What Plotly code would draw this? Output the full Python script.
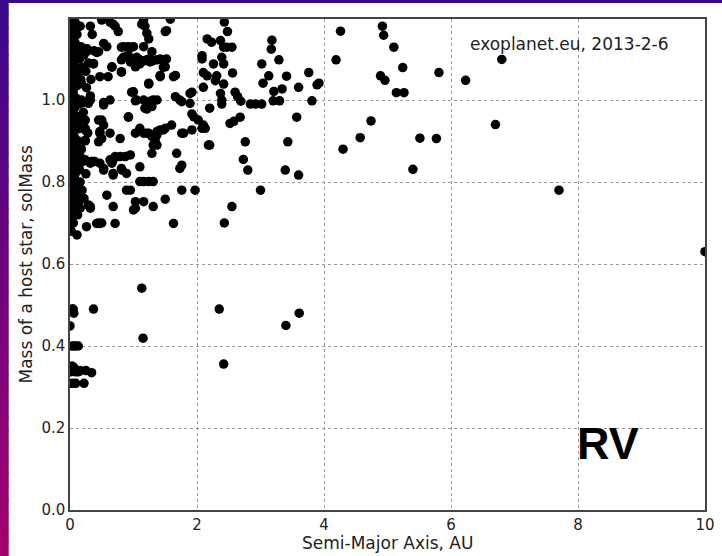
import plotly.graph_objects as go

# ---- data: semi-major axis (AU) and host star mass (solar masses) ----
inner_a = [0.02, 0.05, 0.02, 0.08, 0.03, 0.12, 0.05, 0.15, 0.01, 0.09, 0.2, 0.04, 0.13, 0.25, 0.02, 0.07, 0.17, 0.03, 0.11, 0.05,
           0.01, 0.09, 0.03, 0.14, 0.02, 0.06, 0.01, 0.04, 0.1, 0.02, 0.07, 0.01, 0.13, 0.04, 0.02, 0.08, 0.01, 0.05, 0.12, 0.03,
           0.02, 0.07, 0.01, 0.05, 0.1, 0.02, 0.04, 0.13, 0.01, 0.06, 0.02, 0.09, 0.03, 0.01, 0.05, 0.02, 0.16, 0.19, 0.22, 0.08,
           0.15, 0.2, 0.25, 0.18, 0.24, 0.28, 0.16, 0.21, 0.3, 0.26, 0.33, 0.29, 0.38, 0.35, 0.11, 0.07, 0.17, 0.22, 0.27,
           0.08, 0.16, 0.32, 0.11, 0.21, 0.26, 0.24, 0.21, 0.37, 0.37, 0.18, 0.32, 0.29, 0.32, 0.21, 0.05, 0.08, 0.21, 0.24, 0.24,
           0.24, 0.24, 0.16, 0.24, 0.32, 0.37, 0.34, 0.39, 0.11, 0.16, 0.29, 0.16, 0.32, 0.32, 0.26, 0.11, 0.03, 0.05,
           0.00, 0.00, 0.00, 0.00, 0.00, 0.00, 0.00, 0.06, 0.1, 0.07, 0.11, 0.09, 0.06, 0.1, 0.04, 0.08, 0.04, 0.12, 0.03, 0.14,
           0.18, 0.12, 0.15, 0.1, 0.06, 0.03]
inner_m = [1.19, 1.17, 1.15, 1.14, 1.12, 1.12, 1.10, 1.10, 1.09, 1.08, 1.08, 1.07, 1.065, 1.07, 1.055, 1.05, 1.05, 1.04, 1.035, 1.02,
           1.01, 1.005, 0.99, 0.99, 0.975, 0.96, 0.95, 0.935, 0.93, 0.92, 0.91, 0.90, 0.90, 0.89, 0.875, 0.87, 0.86, 0.85, 0.845, 0.835,
           0.82, 0.815, 0.80, 0.79, 0.79, 0.78, 0.77, 0.775, 0.76, 0.755, 0.74, 0.735, 0.72, 0.70, 0.70, 0.68, 0.80, 0.78, 0.76, 0.82,
           0.83, 0.85, 0.82, 0.88, 0.90, 0.92, 0.95, 0.97, 1.0, 1.03, 1.05, 1.09, 1.12, 1.16, 1.16, 1.185, 1.13, 1.11, 1.125,
           1.19, 1.18, 1.18, 1.177, 1.122, 1.118, 1.124, 1.112, 1.089, 1.088, 1.0, 1.0, 0.992, 1.01, 0.994, 0.998, 0.951, 0.951, 0.931, 0.902,
           0.951, 0.927, 0.862, 0.854, 0.846, 0.850, 0.85, 0.85, 0.768, 0.756, 0.744, 0.736, 0.736, 0.74, 0.691, 0.671, 0.699, 0.70,
           1.13, 1.06, 0.97, 0.88, 0.83, 0.78, 0.73, 1.09, 1.06, 0.98, 0.96, 0.89, 0.86, 0.85, 0.80, 0.76, 0.745, 0.72, 0.96, 0.93,
           1.04, 1.0, 1.07, 1.11, 1.13, 1.165]

low_a = [0.0, 0.05, 0.06, 0.03, 0.37, 0.03, 0.06, 0.09, 0.13, 0.03, 0.06, 0.16, 0.25, 0.34, 0.01, 0.09, 0.13, 0.03, 0.09, 0.22,
         1.13, 1.15, 2.35, 2.42, 3.40, 3.61]
low_m = [0.449, 0.49, 0.48, 0.49, 0.49, 0.40, 0.40, 0.40, 0.40, 0.351, 0.348, 0.34, 0.34, 0.335, 0.337, 0.337, 0.337, 0.309, 0.309, 0.309,
         0.541, 0.419, 0.49, 0.356, 0.45, 0.48]

mid_a = [0.50, 0.63, 0.71, 0.76, 0.68, 1.16, 1.18, 1.21, 1.13, 1.24, 1.50, 1.58, 1.52,
         0.45, 0.53, 0.58, 0.42, 0.84, 0.92, 1.00, 0.81, 0.89, 0.97, 1.16, 1.29,
         0.47, 0.60, 0.66, 0.81, 0.81, 0.89, 0.95, 1.03, 1.05, 1.10, 1.21, 1.26, 1.37, 1.47, 1.50, 1.42, 1.63, 1.24, 0.84, 0.92,
         0.97, 1.05, 1.10, 1.18, 1.24, 1.31, 1.42, 1.52, 1.47, 0.81, 0.66, 1.42, 1.66, 1.24,
         0.53, 0.63, 1.00, 1.05, 1.16, 1.21, 1.29, 1.31, 1.37, 1.18, 1.66, 1.73, 1.76, 1.89, 1.89, 0.97, 1.03, 1.26, 1.21, 1.92,
         1.92, 0.53, 0.92,
         0.45, 0.47, 0.50, 0.63, 0.79, 0.92, 1.03, 1.10, 1.16, 1.24, 1.29, 1.34, 1.37, 1.42, 1.50, 1.60, 1.76, 1.31, 1.92, 1.95,
         0.50, 0.53, 0.47, 0.45, 1.21, 1.37, 1.47, 1.37, 1.79,
         0.47, 0.53, 0.63, 0.71, 0.79, 0.87, 0.95, 0.68, 0.81, 0.89, 1.10, 1.29, 1.68, 1.76, 1.73, 1.10, 1.16, 1.24, 1.31, 0.89,
         0.95, 1.76, 1.97, 0.68, 0.66, 0.82, 0.68, 0.53,
         0.58, 0.68, 1.03, 1.00, 1.16, 1.31, 1.50, 1.03, 0.42, 0.47, 0.71, 0.45, 0.50, 1.63]
mid_m = [1.195, 1.19, 1.18, 1.167, 1.185, 1.195, 1.18, 1.163, 1.185, 1.149, 1.167, 1.197, 1.169,
         1.118, 1.138, 1.130, 1.116, 1.130, 1.130, 1.130, 1.129, 1.129, 1.129, 1.130, 1.118,
         1.057, 1.057, 1.081, 1.069, 1.098, 1.106, 1.093, 1.081, 1.093, 1.098, 1.098, 1.093, 1.098, 1.098, 1.081, 1.057, 1.057, 1.041, 1.104, 1.108,
         1.096, 1.104, 1.088, 1.096, 1.100, 1.096, 1.100, 1.100, 1.080, 1.068, 1.080, 1.060, 1.060, 1.039,
         0.988, 1.0, 1.020, 1.0, 1.0, 0.992, 0.984, 1.0, 1.0, 0.98, 1.008, 1.0, 0.996, 1.016, 0.992, 1.019, 0.998, 0.997, 0.978, 1.019,
         0.966, 0.994, 0.958,
         0.951, 0.923, 0.906, 0.919, 0.906, 0.959, 0.919, 0.931, 0.919, 0.919, 0.911, 0.902, 0.923, 0.927, 0.931, 0.939, 0.919, 0.890, 0.927, 0.959,
         0.951, 0.939, 0.919, 0.898, 0.919, 0.915, 0.927, 0.890, 0.919,
         0.846, 0.833, 0.854, 0.862, 0.862, 0.862, 0.866, 0.821, 0.833, 0.821, 0.837, 0.870, 0.870, 0.841, 0.833, 0.801, 0.801, 0.801, 0.801, 0.780,
         0.780, 0.780, 0.780, 0.854, 0.846, 0.829, 0.817, 0.829,
         0.768, 0.740, 0.752, 0.732, 0.752, 0.740, 0.758, 0.736, 0.699, 0.699, 0.699, 0.70, 0.70, 0.699]

outer_a = [2.43, 2.48, 2.16, 2.23, 2.37, 2.42, 2.47, 2.55, 2.08, 2.08, 2.39, 2.42, 2.26, 2.10, 2.16, 2.31, 2.29, 2.42, 2.10, 2.37,
           2.39, 2.56, 2.60, 2.64, 2.69, 2.39, 2.20, 2.84, 2.92, 3.02, 3.20, 3.30, 3.81, 3.02, 3.18, 3.17, 3.29, 3.13, 3.04, 3.41,
           3.21, 3.34, 3.60, 3.76, 3.92, 3.89, 4.26, 4.19,
           2.02, 2.10, 2.13, 2.08, 2.18, 2.20, 2.52, 2.58, 2.68, 2.76, 3.43, 3.57, 4.30, 2.73, 2.80, 3.39, 3.60, 3.0, 2.55, 2.43,
           4.92, 4.94, 5.10, 5.24, 4.89, 4.96, 5.14, 5.26, 5.81, 6.23, 6.80, 6.70, 4.74, 4.57, 5.51, 5.77, 5.40, 7.70, 10.0]
outer_m = [1.19, 1.167, 1.149, 1.141, 1.145, 1.129, 1.129, 1.129, 1.108, 1.10, 1.104, 1.088, 1.088, 1.067, 1.059, 1.059, 1.047, 1.039, 1.031, 1.016,
           0.99, 1.066, 1.019, 1.008, 0.997, 1.0, 0.98, 0.99, 0.99, 0.99, 0.998, 0.998, 0.998, 1.088, 1.146, 1.124, 1.098, 1.059, 1.041, 1.058,
           1.021, 1.027, 1.031, 1.067, 1.041, 1.037, 1.168, 1.098,
           0.951, 0.939, 0.931, 0.931, 0.890, 0.890, 0.943, 0.948, 0.958, 0.898, 0.898, 0.958, 0.880, 0.855, 0.829, 0.829, 0.817, 0.78, 0.74, 0.70,
           1.18, 1.158, 1.129, 1.079, 1.059, 1.048, 1.018, 1.018, 1.067, 1.048, 1.099, 0.940, 0.949, 0.908, 0.907, 0.906, 0.831, 0.780, 0.630]

x_ticks = [0, 2, 4, 6, 8, 10]
y_ticks = [0.0, 0.2, 0.4, 0.6, 0.8, 1.0]
y_tick_text = ["0.0", "0.2", "0.4", "0.6", "0.8", "1.0"]

a_all = inner_a + low_a + mid_a + outer_a
m_all = inner_m + low_m + mid_m + outer_m

fig = go.Figure()
fig.add_trace(go.Scatter(x=a_all, y=m_all, mode="markers",
                         marker=dict(color="black", size=9.5, line=dict(width=0)),
                         cliponaxis=True, showlegend=False, hoverinfo="skip"))

# ---- purple frame (left gradient strip + top strip), in pixel units relative to the plot origin ----
shapes = []
L, B, H = 70, 46, 556
n_seg = 40
top_c = (58, 8, 142)
bot_c = (165, 0, 110)
for i in range(n_seg):
    t = i / (n_seg - 1)
    r = int(top_c[0] + (bot_c[0] - top_c[0]) * t)
    g = int(top_c[1] + (bot_c[1] - top_c[1]) * t)
    b = int(top_c[2] + (bot_c[2] - top_c[2]) * t)
    y_top = 510 - i * H / n_seg
    y_bot = 510 - (i + 1) * H / n_seg
    shapes.append(dict(type="rect", xref="paper", yref="paper", xsizemode="pixel", ysizemode="pixel",
                       xanchor=0, yanchor=0, x0=-L, x1=-L + 8.7, y0=y_bot - 0.5, y1=y_top + 0.5,
                       fillcolor=f"rgb({r},{g},{b})", line=dict(width=0), layer="above"))
shapes.append(dict(type="rect", xref="paper", yref="paper", xsizemode="pixel", ysizemode="pixel",
                   xanchor=0, yanchor=0, x0=-L, x1=722 - L, y0=510 - 3, y1=520,
                   fillcolor="rgb(58,8,142)", line=dict(width=0), layer="above"))

fig.update_layout(
    width=722, height=556,
    margin=dict(l=70, r=17, t=19, b=46),
    paper_bgcolor="white", plot_bgcolor="white",
    font=dict(family="DejaVu Sans", size=15, color="#222"),
    shapes=shapes,
    xaxis=dict(range=[0, 10], tickvals=x_ticks, showgrid=True, gridcolor="#999", griddash="dot", gridwidth=1,
               zeroline=False, showline=True, linecolor="#444", linewidth=1.5, mirror=True, automargin=False,
               ticks="", ticklabelstandoff=0, tickfont=dict(size=15, color="#222")),
    yaxis=dict(range=[0, 1.1976], tickvals=y_ticks, ticktext=y_tick_text, showgrid=True, gridcolor="#999",
               griddash="dot", gridwidth=1, zeroline=False, showline=True, linecolor="#444", linewidth=1.5,
               mirror=True, automargin=False, ticks="", tickfont=dict(size=15, color="#222")),
    annotations=[
        dict(text="Semi-Major Axis, AU", xref="paper", yref="paper", x=0.5, y=0, yshift=-33,
             xanchor="center", yanchor="middle", showarrow=False, font=dict(size=17, color="#222")),
        dict(text="Mass of a host star, solMass", xref="paper", yref="paper", x=0, y=0.5, xshift=-45,
             xanchor="center", yanchor="middle", textangle=-90, showarrow=False, font=dict(size=17, color="#222")),
        dict(text="exoplanet.eu, 2013-2-6", xref="x", yref="y", x=7.87, y=1.137, xanchor="center", yanchor="middle",
             showarrow=False, font=dict(size=17, color="#222")),
        dict(text="RV", xref="x", yref="y", x=8.47, y=0.163, xanchor="center", yanchor="middle", showarrow=False,
             font=dict(family="Liberation Sans", size=45, color="black", weight="bold")),
    ],
)

fig.write_html("out.html", config={"displayModeBar": False},
               post_script="document.body.style.margin='0px';document.body.style.overflow='hidden';")
